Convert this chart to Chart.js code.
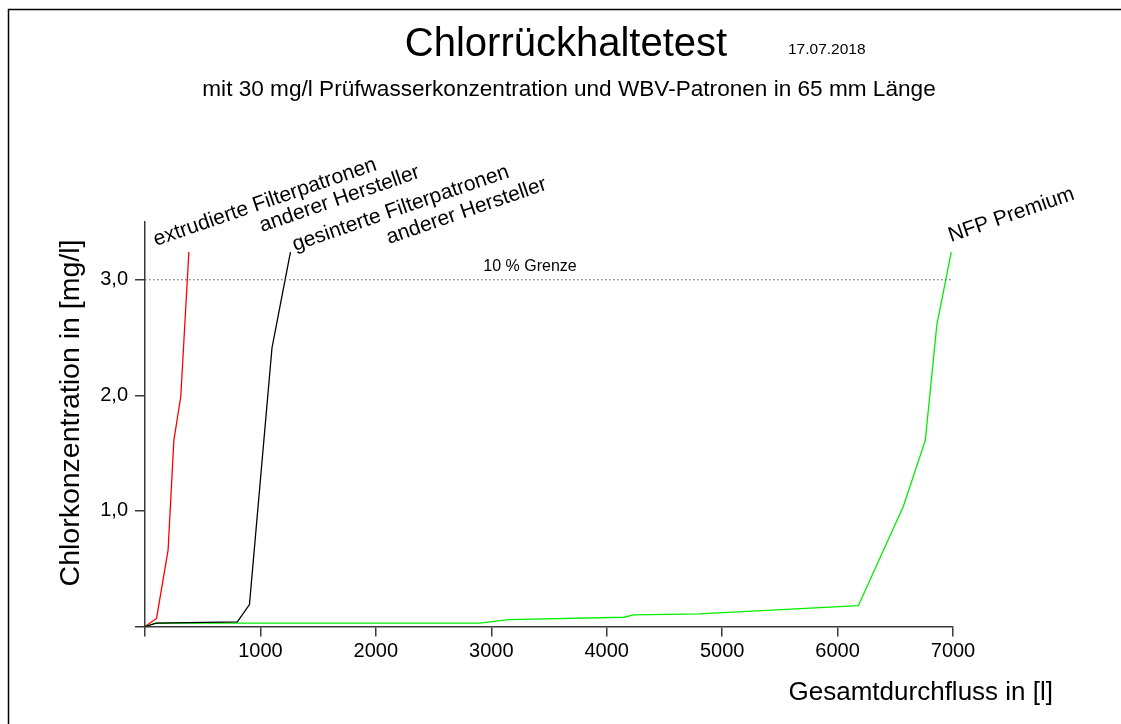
<!DOCTYPE html>
<html>
<head>
<meta charset="utf-8">
<script src="https://cdn.jsdelivr.net/npm/chart.js@4.4.1/dist/chart.umd.min.js"></script>
<style>
  html, body { margin: 0; padding: 0; background: #fff; }
  #wrap { width: 1121px; height: 724px; }
</style>
</head>
<body>
<div id="wrap"><canvas id="chlor" width="1121" height="724"></canvas></div>
<script>
// Chlorrückhaltetest - Messwerte (Durchfluss in l, Konzentration in mg/l)
const extrudiertX = [0, 100, 200, 250, 310, 380];
const extrudiertY = [0, 0.07, 0.66, 1.61, 1.99, 3.24];

const gesintertX = [0, 100, 800, 905, 1100, 1260];
const gesintertY = [0, 0.03, 0.04, 0.19, 2.41, 3.24];

const nfpX = [0, 90, 2900, 3150, 4150, 4230, 4800, 6180, 6570, 6760, 6860, 6985];
const nfpY = [0, 0.03, 0.03, 0.06, 0.08, 0.10, 0.11, 0.18, 1.04, 1.61, 2.61, 3.24];

const grenzeX = [0, 7000];
const grenzeY = [3.0, 3.0];

const xTicks = [0, 1000, 2000, 3000, 4000, 5000, 6000, 7000];
const xTickLabels = ['', '1000', '2000', '3000', '4000', '5000', '6000', '7000'];
const yTicks = [0, 1, 2, 3];
const yTickLabels = ['', '1,0', '2,0', '3,0'];

const FONT = '"Liberation Sans", Arial, sans-serif';
const AXIS = '#3a3a3a';

function toPoints(xs, ys) {
    return xs.map((x, i) => ({ x: x, y: ys[i] }));
}

function lineSet(label, xs, ys, color, extra) {
    return Object.assign({
        label: label,
        data: toPoints(xs, ys),
        borderColor: color,
        borderWidth: 1.3,
        pointRadius: 0,
        tension: 0,
        fill: false,
        clip: false
    }, extra || {});
}

// text that sits around the plot: titles, axis names, curve labels
const textPlugin = {
    id: 'texte',
    afterDraw(chart) {
        const c = chart.ctx;
        c.save();
        c.fillStyle = '#000';

        // frame (only top and left edge are visible)
        c.strokeStyle = '#000';
        c.lineWidth = 1.5;
        c.beginPath();
        c.moveTo(8.5, 724);
        c.lineTo(8.5, 9.5);
        c.lineTo(1121, 9.5);
        c.stroke();

        c.textBaseline = 'alphabetic';
        c.textAlign = 'center';
        c.font = '40px ' + FONT;
        c.fillText('Chlorrückhaltetest', 566, 56);

        c.textAlign = 'left';
        c.font = '15.5px ' + FONT;
        c.fillText('17.07.2018', 788, 54);

        c.textAlign = 'center';
        c.font = '22.6px ' + FONT;
        c.fillText('mit 30 mg/l Prüfwasserkonzentration und WBV-Patronen in 65 mm Länge', 569, 96);

        c.font = '16px ' + FONT;
        c.fillText('10 % Grenze', 530, 271);

        // axis titles
        c.font = '26px ' + FONT;
        c.textAlign = 'right';
        c.fillText('Gesamtdurchfluss in [l]', 1053, 700);

        c.save();
        c.font = '28.5px ' + FONT;
        c.translate(79, 413);
        c.rotate(-Math.PI / 2);
        c.textAlign = 'center';
        c.fillText('Chlorkonzentration in [mg/l]', 0, 0);
        c.restore();

        // curve labels
        c.font = '21px ' + FONT;
        c.textAlign = 'left';
        const ang = -19 * Math.PI / 180;
        const labels = [
            ['extrudierte Filterpatronen', 156, 246],
            ['anderer Hersteller', 262, 232],
            ['gesinterte Filterpatronen', 295, 251],
            ['anderer Hersteller', 389, 244],
            ['NFP Premium', 951, 242]
        ];
        labels.forEach(([t, x, y]) => {
            c.save();
            c.translate(x, y);
            c.rotate(ang);
            c.fillText(t, 0, 0);
            c.restore();
        });

        c.restore();
    }
};

const ctx = document.getElementById('chlor').getContext('2d');

new Chart(ctx, {
    type: 'line',
    data: {
        datasets: [
            lineSet('10 % Grenze', grenzeX, grenzeY, '#555', { borderWidth: 1, borderDash: [1.5, 2.5] }),
            lineSet('gesinterte Filterpatronen anderer Hersteller', gesintertX, gesintertY, '#000000'),
            lineSet('NFP Premium', nfpX, nfpY, '#00ee00'),
            lineSet('extrudierte Filterpatronen anderer Hersteller', extrudiertX, extrudiertY, '#ff0000')
        ]
    },
    options: {
        responsive: false,
        animation: false,
        events: [],
        layout: { padding: { top: 222, right: 168, left: 0, bottom: 0 } },
        plugins: {
            legend: { display: false },
            tooltip: { enabled: false }
        },
        scales: {
            x: {
                type: 'linear',
                min: 0,
                max: 7000,
                afterFit: (s) => { s.height = 97.5; },
                afterBuildTicks: (s) => { s.ticks = xTicks.map(v => ({ value: v })); },
                border: { display: true, color: AXIS, width: 1.5 },
                grid: { drawOnChartArea: false, drawTicks: true, tickLength: 10, color: AXIS, lineWidth: 1.5 },
                ticks: {
                    padding: 3,
                    maxRotation: 0,
                    autoSkip: false,
                    color: '#000',
                    font: { family: FONT, size: 20 },
                    callback: (v) => xTickLabels[xTicks.indexOf(v)]
                }
            },
            y: {
                type: 'linear',
                min: 0,
                max: 3.5,
                afterFit: (s) => { s.width = 145; },
                afterBuildTicks: (s) => { s.ticks = yTicks.map(v => ({ value: v })); },
                border: { display: true, color: AXIS, width: 1.5 },
                grid: { drawOnChartArea: false, drawTicks: true, tickLength: 10, color: AXIS, lineWidth: 1.5 },
                ticks: {
                    padding: 7,
                    autoSkip: false,
                    color: '#000',
                    font: { family: FONT, size: 20 },
                    callback: (v) => yTickLabels[yTicks.indexOf(v)]
                }
            }
        }
    },
    plugins: [textPlugin]
});
</script>
</body>
</html>
